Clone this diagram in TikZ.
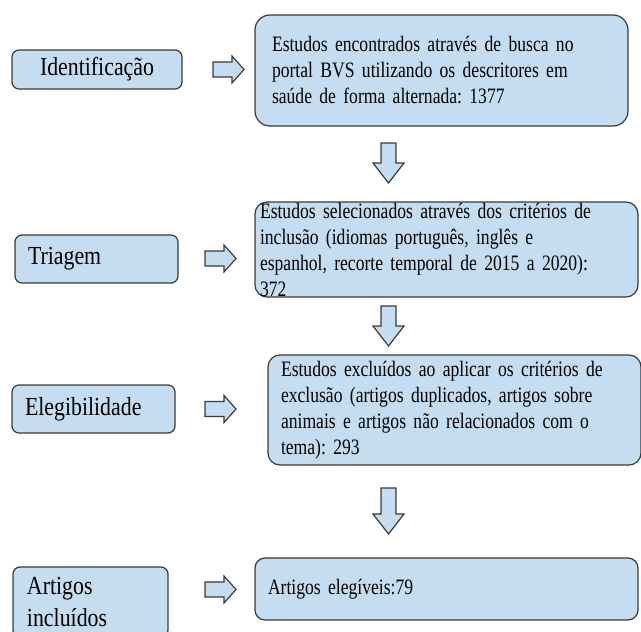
\documentclass[tikz,border=0pt]{standalone}
\usepackage{fontspec}
\setmainfont{Liberation Serif}[FakeStretch=0.84]
\newfontfamily{\boxfam}{Liberation Serif}[FakeStretch=0.80]
\frenchspacing
\usetikzlibrary{positioning}
\definecolor{figA}{HTML}{C5DDF0}
\definecolor{figB}{HTML}{3A3A3A}
\newcommand{\labfont}{\fontsize{26}{32}\selectfont}
\newcommand{\txtfont}{\boxfam\fontsize{22}{26}\selectfont}

\begin{document}
\begin{tikzpicture}[x=1pt,y=-1pt,
  box/.style={draw=figB,fill=figA,line width=1.2pt,rounded corners=#1,inner sep=0pt},
  box/.default=12pt,
  lab/.style={font=\labfont},
  txt/.style={font=\txtfont},
  rarr/.pic={\draw[figB,fill=figA,line width=1.2pt] (0,-7.5) -- (19,-7.5) -- (19,-13.5) -- (31,0) -- (19,13.5) -- (19,7.5) -- (0,7.5) -- cycle;},
  darr/.pic={\draw[figB,fill=figA,line width=1.2pt] (-7.5,0) -- (-7.5,#1-20) -- (-15.5,#1-20) -- (0,#1) -- (15.5,#1-20) -- (7.5,#1-20) -- (7.5,0) -- cycle;}]
\useasboundingbox (0,0) rectangle (641,632);
\clip (0,0) rectangle (641,632);
% etapas
\node[box=7pt,lab,minimum width=170pt,minimum height=39pt] (ident) at (97,69.5) {Identificação};
\node[box=7pt,lab,minimum width=163pt,minimum height=48pt,text width=137pt,align=left] (triag) at (96.5,259) {Triagem};
\node[box=7pt,lab,minimum width=163pt,minimum height=48pt,text width=137pt,align=left] (elegib) at (93.5,409) {Elegibilidade};
\node[box=7pt,lab,minimum width=155pt,minimum height=70pt,text width=127pt,align=left] (incl) at (90.5,602) {Artigos\\incluídos};
% resultados
\node[box=15pt,txt,minimum width=373pt,minimum height=111pt,text width=339pt,align=left] (busca) at (441.5,70.5)
  {Estudos encontrados através de busca no\\portal BVS utilizando os descritores em\\saúde de forma alternada: 1377};
\node[box,txt,minimum width=383pt,minimum height=95pt,text width=373pt,align=left] (selec) at (446.5,249.5)
  {Estudos selecionados através dos critérios de\\inclusão (idiomas português, inglês e\\espanhol, recorte temporal de 2015 a 2020):\\372};
\node[box,txt,minimum width=373pt,minimum height=110pt,text width=347pt,align=left] (exclu) at (454.5,410)
  {Estudos excluídos ao aplicar os critérios de\\exclusão (artigos duplicados, artigos sobre\\animais e artigos não relacionados com o\\tema): 293};
\node[box=10pt,txt,minimum width=383pt,minimum height=62pt,text width=357pt,align=left] (eleg) at (446.5,589) {Artigos elegíveis:79};
% setas
\pic at (213,69.5) {rarr};
\pic at (205,258.5) {rarr};
\pic at (205,409) {rarr};
\pic at (205,589.5) {rarr};
\pic at (388.5,143) {darr=40};
\pic at (388.5,306) {darr=40};
\pic at (388.5,488) {darr=46};
\end{tikzpicture}
\end{document}
